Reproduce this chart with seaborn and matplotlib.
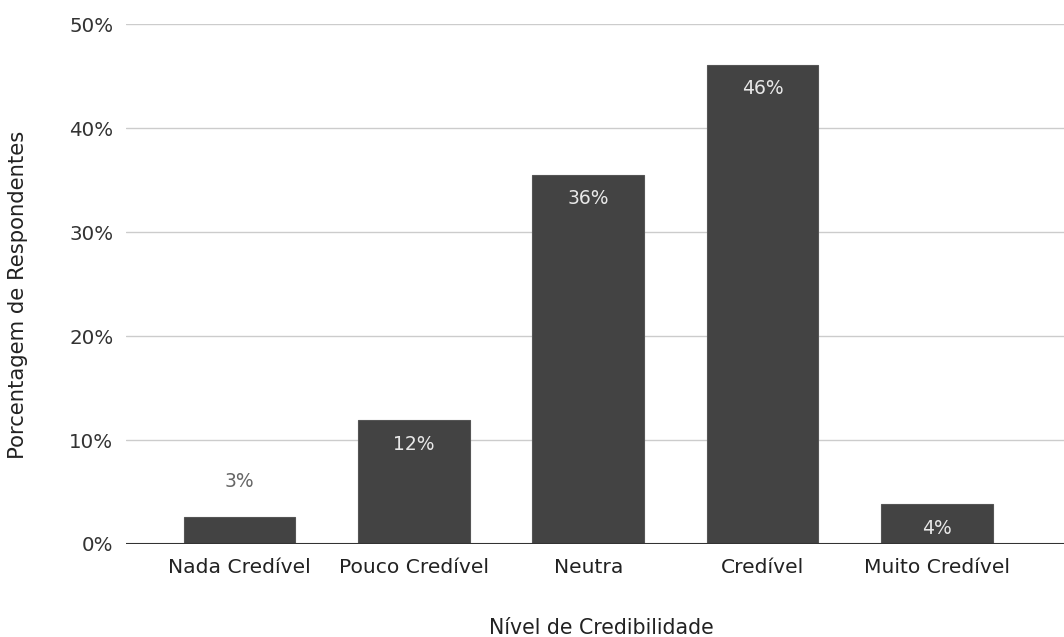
import matplotlib
matplotlib.use("Agg")
import matplotlib.pyplot as plt
import seaborn as sns
import pandas as pd

# Survey results: share of respondents per credibility level
categories = ["Nada Credível", "Pouco Credível", "Neutra", "Credível", "Muito Credível"]
percentages = [2.6, 11.9, 35.5, 46.1, 3.8]
y_ticks = [0, 10, 20, 30, 40, 50]

df = pd.DataFrame({"nivel": categories, "pct": percentages})

sns.set_theme(style="white")
plt.rcParams["font.family"] = ["DejaVu Sans"]

fig = plt.figure(figsize=(10.64, 6.37), dpi=100)
ax = fig.add_axes([0.1184, 0.146, 0.8816, 0.8163])

sns.barplot(data=df, x="nivel", y="pct", color="#434343", width=0.64,
            edgecolor="#555555", linewidth=0.8, saturation=1, ax=ax, zorder=3)

ax.set_ylim(0, 50)
ax.set_xlim(-0.651, 4.728)
ax.set_yticks(y_ticks)
ax.set_yticklabels([f"{t}%" for t in y_ticks], fontsize=14.3, color="#333333")
ax.tick_params(axis="x", labelsize=14.6, colors="#222222", length=0, pad=10)
ax.tick_params(axis="y", length=0, pad=9)

ax.yaxis.grid(True, color="#cccccc", linewidth=1.0, zorder=0)
ax.axhline(0, color="#333333", linewidth=1.5, zorder=4)
for side in ["top", "right", "left", "bottom"]:
    ax.spines[side].set_visible(False)

ax.set_xlabel("Nível de Credibilidade", fontsize=14.8, color="#222222", va="center")
ax.xaxis.set_label_coords(0.5 + (601 - 595) / 938, -0.1615)
ax.set_ylabel("Porcentagem de Respondentes", fontsize=15.2, color="#222222",
              ha="center", va="center")
ax.yaxis.set_label_coords(-0.1151, 0.479)

# Value labels: inside near the top, or above short bars
for patch, val in zip(ax.patches, percentages):
    cx = patch.get_x() + patch.get_width() / 2
    if val < 3:
        ax.text(cx, val + 3.4, f"{val:.0f}%", ha="center", va="center",
                fontsize=13.5, color="#666666", zorder=5)
    else:
        ax.text(cx, val - 2.3, f"{val:.0f}%", ha="center", va="center",
                fontsize=13.5, color="#e8e8e8", zorder=5)

fig.savefig("out.png", dpi=100)
